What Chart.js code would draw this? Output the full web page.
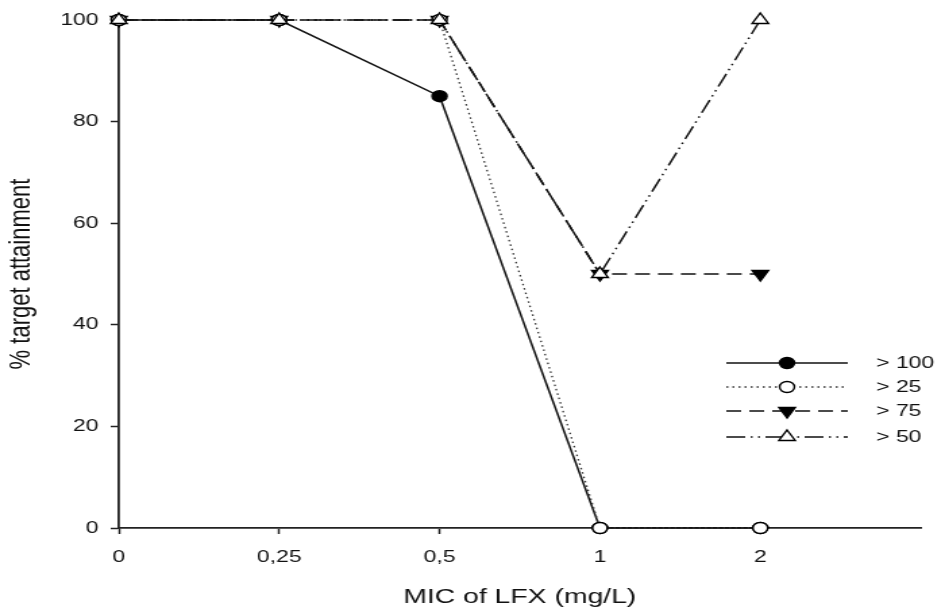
<!DOCTYPE html>
<html lang="en">
<head>
    <meta charset="UTF-8">
    <title>% target attainment vs MIC of LFX</title>
    <style>
        body {
            margin: 0;
            background: white;
            overflow: hidden;
        }
        .wrap {
            width: 695px;
            height: 611px;
            transform: scaleX(1.35);
            transform-origin: 0 0;
        }
    </style>
</head>
<body>
    <div class="wrap">
        <canvas id="chart" width="695" height="611"></canvas>
    </div>

    <script src="https://cdn.jsdelivr.net/npm/chart.js"></script>
    <script>
        // MIC categories (last empty slot keeps the axis running past "2")
        const micLabels = ['0', '0,25', '0,5', '1', '2'];
        const axisLabels = [...micLabels, ''];
        const yTicks = [0, 20, 40, 60, 80, 100];

        const over100 = [100, 100, 85, 0, 0];
        const over25 = [100, 100, 100, 0, 0];
        const over75 = [100, 100, 100, 50, 50];
        const over50 = [100, 100, 100, 50, 100];

        const seriesNames = ['> 100', '> 25', '> 75', '> 50'];

        Chart.defaults.font.family = '"Liberation Sans", Arial, sans-serif';
        Chart.defaults.color = '#111';

        function drawMarker(ctx, ds, x, y) {
            const r = ds.pointRadius;
            ctx.save();
            ctx.setLineDash([]);
            ctx.lineWidth = ds.pointBorderWidth;
            ctx.strokeStyle = ds.pointBorderColor;
            ctx.fillStyle = ds.pointBackgroundColor;
            ctx.beginPath();
            if (ds.pointStyle === 'circle') {
                ctx.arc(x, y, r, 0, Math.PI * 2);
            } else {
                const rot = (ds.pointRotation || 0) * Math.PI / 180;
                for (let i = 0; i < 3; i++) {
                    const a = rot + i * 2 * Math.PI / 3;
                    const px = x + Math.sin(a) * r;
                    const py = y - Math.cos(a) * r;
                    if (i === 0) ctx.moveTo(px, py); else ctx.lineTo(px, py);
                }
                ctx.closePath();
            }
            ctx.fill();
            ctx.stroke();
            ctx.restore();
        }

        // legend with a long line and the marker in the middle
        const lineLegend = {
            id: 'lineLegend',
            afterDraw(chart) {
                const ctx = chart.ctx;
                const rows = [363, 387, 411, 437];
                chart.data.datasets.forEach((ds, i) => {
                    const y = rows[i];
                    ctx.save();
                    ctx.strokeStyle = ds.borderColor;
                    ctx.lineWidth = ds.borderWidth;
                    ctx.setLineDash(ds.borderDash || []);
                    ctx.beginPath();
                    ctx.moveTo(538, y);
                    ctx.lineTo(628, y);
                    ctx.stroke();
                    ctx.restore();
                    drawMarker(ctx, ds, 583, y);
                    ctx.save();
                    ctx.font = '17px "Liberation Sans", Arial, sans-serif';
                    ctx.fillStyle = '#111';
                    ctx.textBaseline = 'middle';
                    ctx.fillText(ds.label, 649, y);
                    ctx.restore();
                });
            }
        };

        const common = {
            borderColor: '#111',
            pointBorderColor: '#000',
            pointBorderWidth: 1.4,
            pointHoverRadius: 6,
            tension: 0,
            fill: false,
            clip: false
        };

        new Chart(document.getElementById('chart'), {
            type: 'line',
            data: {
                labels: axisLabels,
                datasets: [
                    { ...common, label: seriesNames[0], data: over100, borderWidth: 1.5, pointStyle: 'circle', pointRadius: 5.5, pointBackgroundColor: '#000', order: 4 },
                    { ...common, label: seriesNames[1], data: over25, borderWidth: 1.3, borderColor: '#333', borderDash: [1.5, 3], pointStyle: 'circle', pointRadius: 5.5, pointBackgroundColor: '#fff', order: 2 },
                    { ...common, label: seriesNames[2], data: over75, borderWidth: 1.6, borderDash: [11, 6], pointStyle: 'triangle', pointRotation: 180, pointRadius: 7, pointBackgroundColor: '#000', order: 3 },
                    { ...common, label: seriesNames[3], data: over50, borderWidth: 1.5, borderDash: [14, 4, 1.5, 4, 1.5, 4], pointStyle: 'triangle', pointRadius: 7, pointBackgroundColor: '#fff', order: 1 }
                ]
            },
            options: {
                responsive: false,
                animation: false,
                layout: { padding: { top: 20, right: 0, bottom: 0, left: 0 } },
                plugins: {
                    legend: { display: false },
                    tooltip: { enabled: false }
                },
                scales: {
                    x: {
                        offset: false,
                        afterFit: s => { s.height = 83; },
                        border: { display: true, color: '#222', width: 1.8 },
                        grid: {
                            drawOnChartArea: false,
                            drawTicks: true,
                            tickLength: 6,
                            tickWidth: 1.5,
                            tickColor: c => c.index === axisLabels.length - 1 ? 'rgba(0,0,0,0)' : '#222'
                        },
                        ticks: {
                            autoSkip: false,
                            maxRotation: 0,
                            padding: 13,
                            font: { size: 17 }
                        },
                        title: {
                            display: true,
                            text: 'MIC of LFX (mg/L)',
                            font: { size: 21 },
                            padding: { top: 0, bottom: 1 }
                        }
                    },
                    y: {
                        min: 0,
                        max: 100,
                        afterFit: s => { s.width = 88; },
                        afterBuildTicks: s => { s.ticks = yTicks.map(v => ({ value: v })); },
                        border: { display: true, color: '#222', width: 1.8 },
                        grid: {
                            drawOnChartArea: false,
                            drawTicks: true,
                            tickLength: 6,
                            tickWidth: 1.5,
                            tickColor: '#222'
                        },
                        ticks: {
                            padding: 9,
                            font: { size: 17 }
                        },
                        title: {
                            display: true,
                            text: '% target attainment',
                            font: { size: 22 },
                            padding: { top: 3, bottom: 0 }
                        }
                    }
                }
            },
            plugins: [lineLegend]
        });
    </script>
</body>
</html>
